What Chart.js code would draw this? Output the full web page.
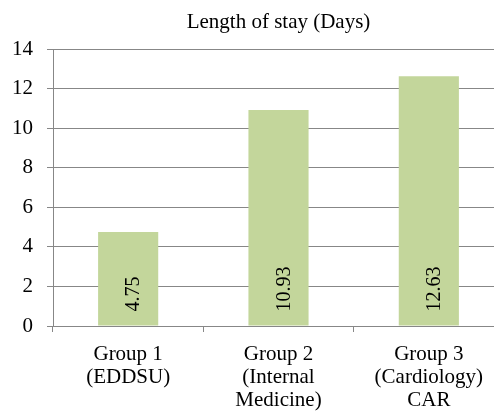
<!DOCTYPE html>
<html>
<head>
<meta charset="utf-8">
<script src="https://cdn.jsdelivr.net/npm/chart.js@4/dist/chart.umd.min.js"></script>
<style>
html,body{margin:0;padding:0;background:#fff;overflow:hidden;}
#wrap{width:504px;height:417px;position:relative;}
</style>
</head>
<body>
<div id="wrap"><canvas id="c"></canvas></div>
<script>
const categories = [["Group 1","(EDDSU)"],["Group 2","(Internal","Medicine)"],["Group 3","(Cardiology)","CAR"]];
const lengthOfStay = [4.75, 10.93, 12.63];
const valueLabels = ["4.75", "10.93", "12.63"];
const titleText = "Length of stay (Days)";

const FONT = "'Liberation Serif','Times New Roman',serif";
const GRID = '#878787';

const barLabels = {
  id: 'barLabels',
  afterDatasetsDraw(chart) {
    const ctx = chart.ctx;
    const meta = chart.getDatasetMeta(0);
    ctx.save();
    ctx.fillStyle = '#000';
    ctx.font = "20px " + FONT;
    ctx.textAlign = 'left';
    ctx.textBaseline = 'alphabetic';
    meta.data.forEach((bar, i) => {
      ctx.save();
      ctx.translate(bar.x + 11, bar.base - 14);
      ctx.rotate(-Math.PI / 2);
      ctx.fillText(valueLabels[i], 0, 0);
      ctx.restore();
    });
    ctx.restore();
  }
};

new Chart(document.getElementById('c'), {
  type: 'bar',
  data: {
    labels: categories,
    datasets: [{
      data: lengthOfStay,
      backgroundColor: '#c3d69b',
      borderWidth: 0,
      categoryPercentage: 1,
      barPercentage: 0.4
    }]
  },
  options: {
    responsive: true,
    maintainAspectRatio: false,
    animation: false,
    layout: { padding: 0 },
    plugins: {
      legend: { display: false },
      tooltip: { enabled: false },
      title: {
        display: true,
        text: titleText,
        fullSize: false,
        color: '#000',
        font: { family: FONT, size: 21, weight: 'normal' },
        padding: { top: 10, bottom: 14 }
      }
    },
    scales: {
      x: {
        grid: { display: true, drawOnChartArea: false, drawTicks: true, tickLength: 6, color: GRID, offset: true },
        border: { display: true, color: GRID, width: 1 },
        ticks: { color: '#000', font: { family: FONT, size: 21, lineHeight: 1.1 }, padding: 11, maxRotation: 0, autoSkip: false },
        afterFit(s) { s.height = 91; }
      },
      y: {
        min: 0, max: 14,
        grid: { color: GRID, tickLength: 6, drawTicks: true },
        border: { display: true, color: GRID, width: 1 },
        ticks: { stepSize: 2, color: '#000', font: { family: FONT, size: 21 }, padding: 14 },
        afterFit(s) { s.width = 53; }
      }
    }
  },
  plugins: [barLabels]
});
</script>
</body>
</html>
